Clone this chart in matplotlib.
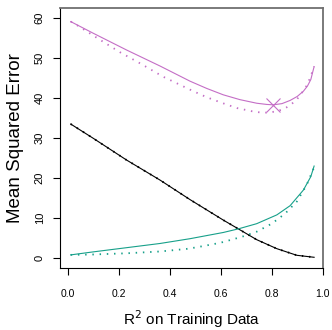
import matplotlib
matplotlib.use("Agg")
import matplotlib.pyplot as plt

# R^2 on training data vs error
x_lasso_mse = [0.012, 0.1, 0.231, 0.362, 0.48, 0.545, 0.61, 0.675, 0.741, 0.78, 0.806,
               0.84, 0.872, 0.9, 0.924, 0.94, 0.953, 0.966]
lasso_mse = [59.0, 56.1, 51.9, 47.9, 44.1, 42.3, 40.7, 39.5, 38.6, 38.3, 38.2,
             38.5, 39.3, 40.3, 41.6, 42.9, 44.5, 47.75]

x_ridge_mse = [0.012, 0.042, 0.123, 0.205, 0.29, 0.375, 0.46, 0.486, 0.545, 0.604, 0.663,
               0.722, 0.754, 0.78, 0.813, 0.846, 0.872, 0.898, 0.918, 0.94, 0.954, 0.966]
ridge_mse = [59.0, 57.9, 54.6, 51.35, 48.35, 45.2, 42.6, 41.8, 40.1, 38.7, 37.4,
             36.6, 36.3, 36.25, 36.5, 37.1, 38.1, 39.5, 41.2, 43.3, 45.6, 47.75]

x_bias = [0.012, 0.1, 0.231, 0.362, 0.48, 0.545, 0.61, 0.669, 0.741, 0.82, 0.898, 0.966]
lasso_bias = [33.4, 29.85, 24.4, 19.4, 14.5, 11.95, 9.4, 7.2, 4.5, 2.25, 0.6, 0.1]
ridge_bias = [33.4, 29.85, 24.4, 19.4, 14.5, 11.95, 9.4, 7.2, 4.5, 2.25, 0.6, 0.1]

x_lasso_var = [0.012, 0.1, 0.231, 0.362, 0.48, 0.61, 0.669, 0.741, 0.82, 0.872, 0.924, 0.953, 0.966]
lasso_var = [0.7, 1.45, 2.5, 3.55, 4.75, 6.3, 7.2, 8.5, 10.7, 13.0, 16.9, 20.25, 22.9]

x_ridge_var = [0.012, 0.1, 0.231, 0.362, 0.467, 0.506, 0.597, 0.682, 0.741, 0.8, 0.852,
               0.898, 0.937, 0.966]
ridge_var = [0.7, 0.8, 1.1, 1.55, 2.2, 2.6, 3.7, 5.2, 6.5, 8.5, 11.0, 14.0, 18.2, 22.6]

min_x = [0.806]
min_y = [38.2]

xticks = [0.0, 0.2, 0.4, 0.6, 0.8, 1.0]
yticks = [0, 10, 20, 30, 40, 50, 60]

ROXO = "#c46ec6"
VERDE = "#17a08a"
PONTILHADO = (0, (0.8, 3.2))

plt.rcParams["font.family"] = ["Liberation Sans", "DejaVu Sans"]

fig = plt.figure(figsize=(3.32, 3.30), dpi=100)
ax = fig.add_axes([0.1807, 0.1879, 0.7923, 0.7879])

ax.plot(x_lasso_mse, lasso_mse, color=ROXO, lw=0.8)
ax.plot(x_ridge_mse, ridge_mse, color=ROXO, lw=1.3, linestyle=PONTILHADO)
ax.plot(x_bias, lasso_bias, color="black", lw=0.8)
ax.plot(x_bias, ridge_bias, color="black", lw=1.3, linestyle=PONTILHADO)
ax.plot(x_lasso_var, lasso_var, color=VERDE, lw=0.8)
ax.plot(x_ridge_var, ridge_var, color=VERDE, lw=1.3, linestyle=PONTILHADO)
ax.plot(min_x, min_y, marker="x", color=ROXO, markersize=10, mew=0.8, linestyle="none")

ax.set_xlim(-0.030, 1.001)
ax.set_ylim(-2.575, 62.4)

ax.set_xticks(xticks)
ax.set_xticklabels([f"{v:.1f}" for v in xticks], fontsize=7.5)
ax.set_yticks(yticks)
ax.set_yticklabels([str(v) for v in yticks], fontsize=8, rotation=90, va="center")
ax.tick_params(axis="x", length=5, width=0.8, pad=10)
ax.tick_params(axis="y", length=5, width=0.8, pad=6)

for lado in ["left", "bottom"]:
    ax.spines[lado].set_color("black")
    ax.spines[lado].set_linewidth(0.8)
for lado in ["top", "right"]:
    ax.spines[lado].set_color("#707070")
    ax.spines[lado].set_linewidth(1.3)

ax.set_ylabel("Mean Squared Error", fontsize=13.5, labelpad=8)
ax.set_xlabel(r"R$^2$ on Training Data", fontsize=11, labelpad=7)

fig.savefig("out.png", dpi=100)
